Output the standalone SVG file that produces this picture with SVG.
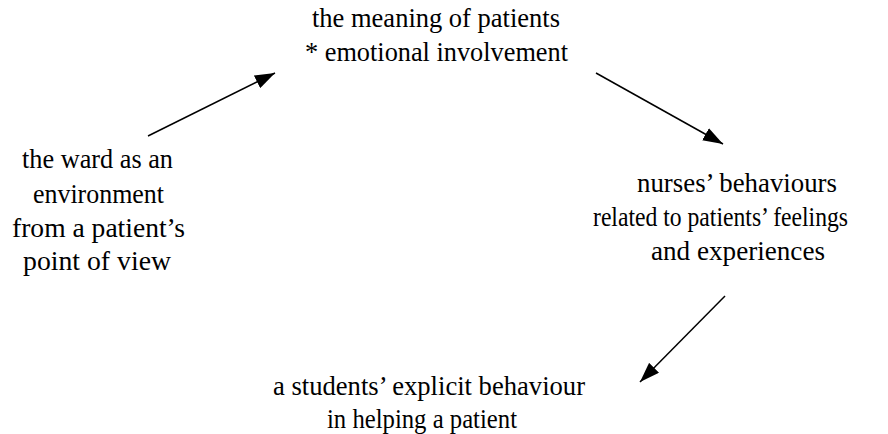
<svg xmlns="http://www.w3.org/2000/svg" width="888" height="434" viewBox="0 0 888 434">
<style>
text{font-family:'Liberation Serif','Times New Roman','DejaVu Serif',serif;font-size:26.5px;fill:#000}
.c{stroke:#000;stroke-width:1.5;fill:none}
</style>
<defs>
<marker id="ah" markerWidth="20" markerHeight="14" refX="20" refY="7" orient="auto" markerUnits="userSpaceOnUse">
<path d="M0,0 L20,7 L0,14 Z" fill="#000"/>
</marker>
</defs>
<rect width="888" height="434" fill="#fff"/>
<g id="n1">
<text x="312" y="27" textLength="248" lengthAdjust="spacingAndGlyphs">the meaning of patients</text>
<text x="305" y="61" textLength="263" lengthAdjust="spacingAndGlyphs">* emotional involvement</text>
</g>
<g id="n2">
<text x="22" y="168" textLength="151" lengthAdjust="spacingAndGlyphs">the ward as an</text>
<text x="33" y="203" textLength="131" lengthAdjust="spacingAndGlyphs">environment</text>
<text x="12" y="237" textLength="173" lengthAdjust="spacingAndGlyphs">from a patient’s</text>
<text x="23" y="270" textLength="148" lengthAdjust="spacingAndGlyphs">point of view</text>
</g>
<g id="n3">
<text x="637" y="192" textLength="200" lengthAdjust="spacingAndGlyphs">nurses’ behaviours</text>
<text x="593" y="226" textLength="255" lengthAdjust="spacingAndGlyphs">related to patients’ feelings</text>
<text x="651" y="260" textLength="174" lengthAdjust="spacingAndGlyphs">and experiences</text>
</g>
<g id="n4">
<text x="273" y="395" textLength="312" lengthAdjust="spacingAndGlyphs">a students’ explicit behaviour</text>
<text x="327" y="428" textLength="190" lengthAdjust="spacingAndGlyphs">in helping a patient</text>
</g>
<g id="connectors">
<line class="c" x1="148" y1="136" x2="275" y2="73" marker-end="url(#ah)"/>
<line class="c" x1="596" y1="73" x2="723" y2="144" marker-end="url(#ah)"/>
<line class="c" x1="725" y1="296" x2="640" y2="382" marker-end="url(#ah)"/>
</g>
</svg>
